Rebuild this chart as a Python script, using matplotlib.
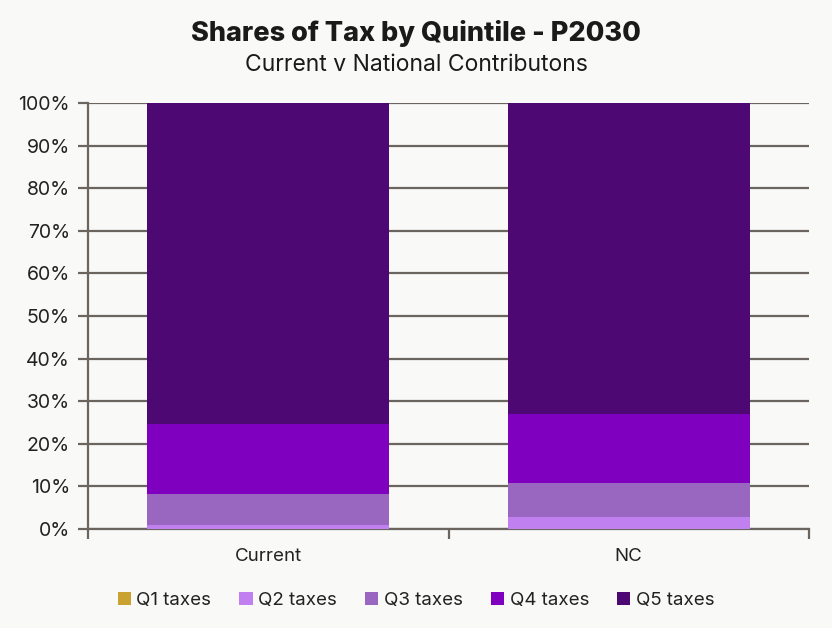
import numpy as np
import matplotlib.pyplot as plt
from matplotlib.ticker import PercentFormatter

categories = ['Current', 'NC']
series = ['Q1 taxes', 'Q2 taxes', 'Q3 taxes', 'Q4 taxes', 'Q5 taxes']
q1 = [0.1, 0.1]
q2 = [0.8, 2.7]
q3 = [7.3, 8.0]
q4 = [16.4, 16.2]
q5 = [75.4, 73.0]
colors = ['#C9A232', '#C080F0', '#9966C0', '#8000C0', '#4D0873']

plt.rcParams['font.family'] = ['Inter', 'DejaVu Sans']
bg = '#F9F9F7'
grey = '#6B6560'

fig = plt.figure(figsize=(8.32, 6.28), dpi=100, facecolor=bg)
ax = fig.add_axes([88/832, 99/628, 721/832, 426/628], facecolor=bg)

x = np.arange(len(categories))
bottom = np.zeros(len(categories))
for name, vals, c in zip(series, [q1, q2, q3, q4, q5], colors):
    ax.bar(x, vals, 0.67, bottom=bottom, color=c, label=name, zorder=3)
    bottom += np.array(vals)

ax.set_xlim(-0.5, 1.5)
ax.set_ylim(0, 100)
ax.set_yticks(np.arange(0, 101, 10))
ax.yaxis.set_major_formatter(PercentFormatter(decimals=0))
ax.grid(axis='y', color=grey, linewidth=1.6, zorder=0)
ax.set_axisbelow(True)

ax.set_xticks(x)
ax.set_xticklabels(categories)
ax.set_xticks([-0.5, 0.5, 1.5], minor=True)
ax.tick_params(axis='x', which='major', length=0, pad=14, labelsize=13.5, labelcolor='#222222')
ax.tick_params(axis='x', which='minor', length=7, width=1.6, color=grey)
ax.tick_params(axis='y', length=7, width=1.6, color=grey, labelsize=14, labelcolor='#222222', pad=6)

for s in ['top', 'right']:
    ax.spines[s].set_visible(False)
for s in ['left', 'bottom']:
    ax.spines[s].set_color(grey)
    ax.spines[s].set_linewidth(1.6)

fig.text(0.5, 0.947, 'Shares of Tax by Quintile - P2030', ha='center', va='center',
         fontsize=19.5, fontweight='heavy', color='#1a1a1a')
fig.text(0.5, 0.896, 'Current v National Contributons', ha='center', va='center',
         fontsize=16.5, color='#1a1a1a')

ax.legend(loc='upper center', bbox_to_anchor=(0.455, -0.108), ncol=5, frameon=False,
          fontsize=13.5, handlelength=0.7, handleheight=0.7, handletextpad=0.3,
          columnspacing=1.5, labelcolor='#222222')

fig.savefig('out.png', dpi=100, facecolor=bg)
